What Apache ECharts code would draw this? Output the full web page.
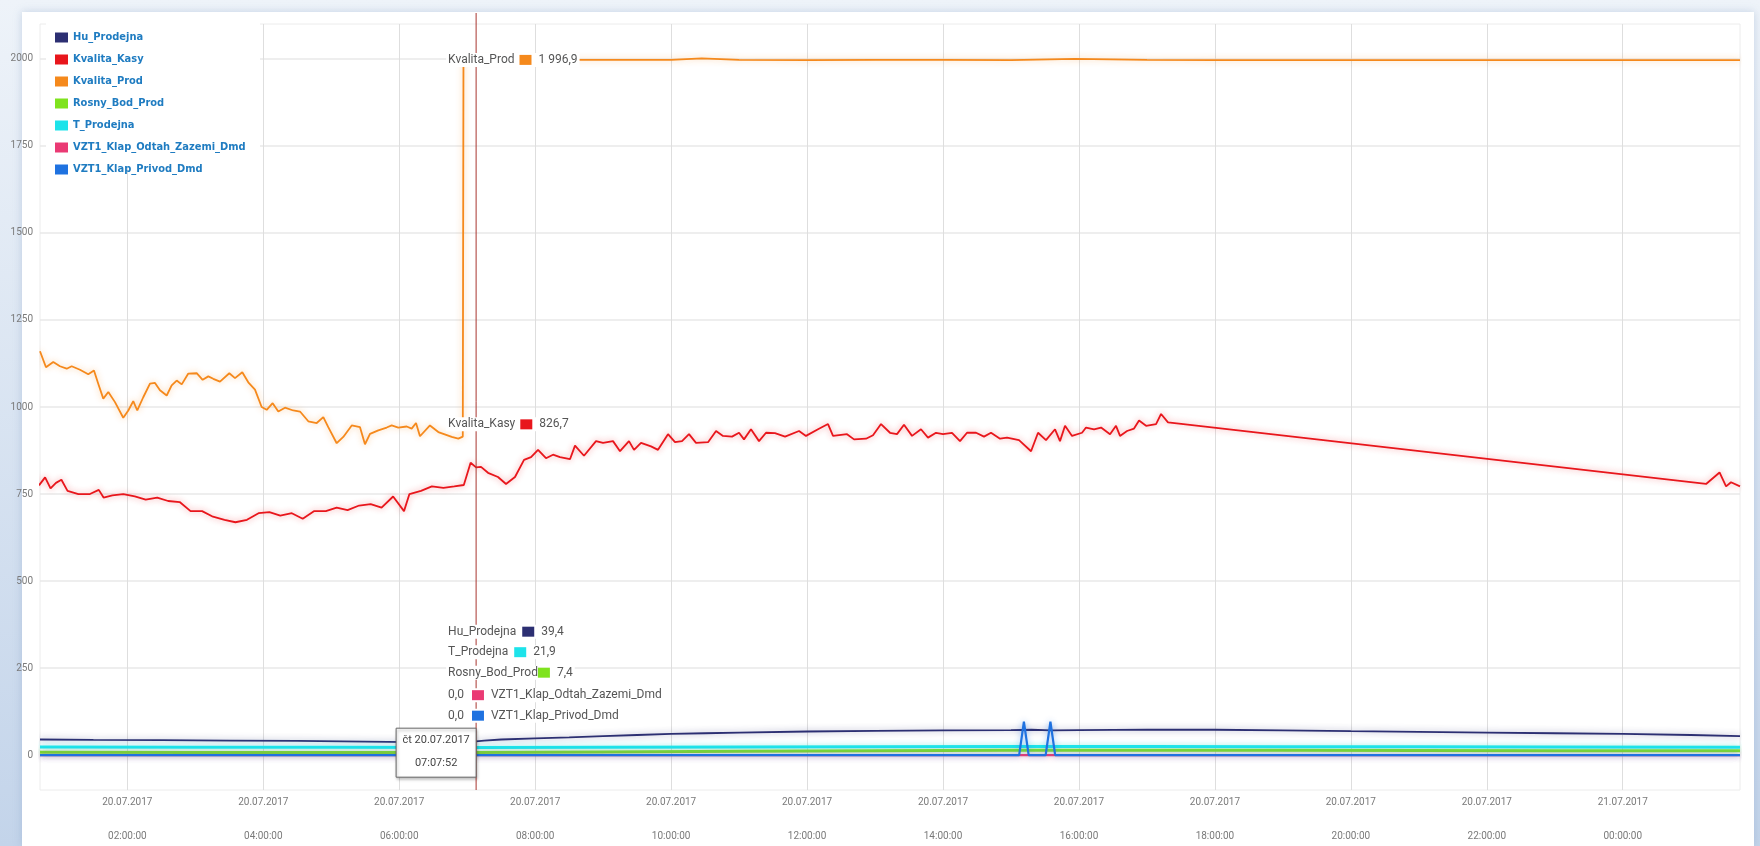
<!DOCTYPE html>
<html><head><meta charset="utf-8">
<script src="https://cdn.jsdelivr.net/npm/echarts@6/dist/echarts.min.js"></script>
<style>
html,body{margin:0;padding:0;width:1760px;height:846px;overflow:hidden;background:linear-gradient(to bottom,#eef3f9,#c3d4ea);}
#panel{position:absolute;left:22px;top:12px;width:1732px;height:834px;background:#fff;box-shadow:0 0 8px rgba(120,150,190,0.35);}
#chart{position:absolute;left:0;top:0;width:1760px;height:846px;}
</style></head><body><div id="panel"></div><div id="chart"></div>
<script>
// time values are hours since 20.07.2017 00:00
const seriesNames = ['Hu_Prodejna','Kvalita_Kasy','Kvalita_Prod','Rosny_Bod_Prod','T_Prodejna','VZT1_Klap_Odtah_Zazemi_Dmd','VZT1_Klap_Privod_Dmd'];
const seriesColors = ['#2c2f72','#e8161c','#f5891c','#7fe31e','#1de3ea','#ea3a74','#1f72e0'];

const yTicks = [0,250,500,750,1000,1250,1500,1750,2000];
const xTicks = [2,4,6,8,10,12,14,16,18,20,22,24];

const huT = [0.715,1.5,2.5,3.5,4.5,5.5,6.5,7.05,7.131,7.25,7.5,8,8.5,9,9.5,10,10.5,11,12,13,14,15,15.3,15.6,16,17,18,19,20,21,22,23,24,25,25.725];
const huV = [45,44,43,42,41,39,37,37,39.4,42,45,48,51,55,58,61,63,65,68,70,71.5,72,73,71,72,73.5,73,71.5,69,67,65,63,61,58,55];

const kasyT = [0.70,0.79,0.87,0.95,1.03,1.12,1.28,1.45,1.58,1.65,
 1.78,1.94,2.11,2.27,2.44,2.60,2.77,2.93,3.10,3.26,
 3.43,3.59,3.76,3.93,4.09,4.25,4.42,4.58,4.75,4.92,
 5.08,5.24,5.41,5.58,5.74,5.91,6.07,6.15,6.32,6.48,
 6.65,6.81,6.95,7.05,7.131,7.203,7.306,7.453,7.571,7.703,
 7.836,7.939,8.042,8.159,8.262,8.365,8.512,8.586,8.718,8.895,
 8.998,9.145,9.248,9.38,9.454,9.557,9.704,9.807,9.954,10.057,
 10.16,10.263,10.366,10.543,10.661,10.763,10.896,10.999,11.072,11.175,
 11.293,11.396,11.528,11.676,11.882,11.984,12.161,12.308,12.382,12.588,
 12.691,12.867,12.97,13.088,13.22,13.323,13.426,13.544,13.676,13.779,
 13.897,14.0,14.132,14.25,14.353,14.486,14.603,14.706,14.839,14.942,
 15.118,15.295,15.398,15.515,15.648,15.721,15.795,15.898,16.045,16.104,
 16.222,16.325,16.457,16.545,16.604,16.707,16.81,16.884,16.987,17.134,
 17.208,17.31,25.226,25.424,25.52,25.593,25.725];
const kasyV = [775,798,766,782,791,759,750,750,762,740,
 746,750,743,734,740,730,727,701,701,685,
 676,669,676,695,698,688,695,679,701,701,
 711,704,717,721,711,743,701,750,759,772,
 768,772,776,840,826.7,828,811,799,779,799,
 848,856,877,853,863,856,850,889,860,902,
 897,902,873,902,877,897,887,877,922,899,
 902,922,897,899,931,917,915,926,907,936,
 902,926,925,915,931,917,936,951,917,922,
 907,909,919,951,926,922,949,917,936,912,
 926,922,926,902,926,926,915,926,909,912,
 905,873,926,905,936,902,946,917,926,941,
 936,941,922,946,917,931,938,961,946,951,
 980,956,779,812,772,784,772];

const prodT = [0.715,0.803,0.91,1.009,1.108,1.181,1.303,1.425,1.509,1.572,
 1.646,1.72,1.818,1.94,2.014,2.087,2.146,2.234,2.333,2.407,
 2.48,2.579,2.652,2.726,2.8,2.897,3.02,3.108,3.191,3.264,
 3.363,3.5,3.584,3.691,3.779,3.878,3.976,4.05,4.138,4.221,
 4.319,4.441,4.54,4.662,4.786,4.883,4.956,5.08,5.177,5.301,
 5.423,5.496,5.57,5.692,5.815,5.889,5.986,6.11,6.183,6.247,
 6.305,6.452,6.575,6.69,6.772,6.869,6.935,6.945,7.131,8.0,
 9.0,10.0,10.45,11.0,12.0,13.0,14.0,15.0,15.94,17.0,
 18.0,20.0,22.0,24.0,25.725];
const prodV = [1160,1114,1129,1117,1110,1117,1107,1094,1105,1067,
 1024,1043,1014,969,990,1017,990,1028,1067,1069,
 1048,1033,1062,1076,1065,1096,1097,1078,1088,1081,
 1073,1097,1083,1100,1071,1050,1000,992,1011,987,
 998,990,987,959,954,971,942,896,914,947,
 942,893,923,933,941,947,941,944,938,954,
 916,947,928,920,914,909,915,1998,1996.9,1997,
 1997,1997,2001,1997,1996,1997,1997,1996,2000,1997,
 1996,1996,1996,1996,1996];

const rosnyT = [0.715,3,5,7.131,9,11,13,15,17,19,21,23,25.725];
const rosnyV = [8.5,8,7.5,7.4,9,11,13,14,14.5,14,13.5,13,12.5];

const tProdT = [0.715,3,5,7.131,9,11,13,15,17,19,21,23,25.725];
const tProdV = [23.5,23,22.5,21.9,22.5,23.5,24.5,25,25,24.5,24,23.5,23];

const odtahT = [0.715,25.725];
const odtahV = [0,0];

const privodT = [0.715,15.12,15.19,15.26,15.51,15.58,15.65,25.725];
const privodV = [0,0,96,0,0,96,0,0];

const cursorHour = 7.1311; // 07:07:52
const tipDate = 'čt 20.07.2017';
const tipTime = '07:07:52';
const tipProd = '1 996,9', tipKasy = '826,7', tipHu = '39,4', tipT = '21,9', tipRosny = '7,4', tipOdtah = '0,0', tipPrivod = '0,0';

const F = 'Roboto, "Noto Sans", sans-serif';
const FL = '"Liberation Sans Narrow", "DejaVu Sans Condensed", Roboto, sans-serif';

function pairs(t, v){ return t.map((x,i)=>[x, v[i]]); }
const allT = [huT,kasyT,prodT,rosnyT,tProdT,odtahT,privodT];
const allV = [huV,kasyV,prodV,rosnyV,tProdV,odtahV,privodV];
const widths = [1.8,1.8,1.8,3,3,2.2,2.2];

function hexA(h,a){const r=parseInt(h.substr(1,2),16),g=parseInt(h.substr(3,2),16),b=parseInt(h.substr(5,2),16);return 'rgba('+r+','+g+','+b+','+a+')';}
function pad(n){return (n<10?'0':'')+n;}

const chart = echarts.init(document.getElementById('chart'), null, {renderer:'canvas'});
const option = {
  animation:false,
  backgroundColor:'transparent',
  grid:{left:40,right:20,top:24,bottom:56,show:true,borderColor:'#ececec',borderWidth:1},
  legend:{orient:'vertical',left:50,top:27,itemWidth:13,itemHeight:10,itemGap:11,icon:'rect',
    textStyle:{color:'#1f7cc1',fontWeight:'bold',fontSize:11,fontFamily:FL,lineHeight:10},
    data:seriesNames, z:10},
  xAxis:{type:'value',min:0.715,max:25.725,
    axisLine:{show:false},
    axisTick:{show:false,customValues:xTicks},
    splitLine:{show:true,lineStyle:{color:'#dedede',width:1}},
    axisLabel:{customValues:xTicks,margin:4,color:'#7a7a7a',
      formatter:function(v){const d=20+Math.floor(v/24);const h=Math.round(v%24);return '{d|'+d+'.07.2017}\n{t|'+pad(h)+':00:00}';},
      rich:{d:{fontSize:10,fontFamily:F,color:'#7a7a7a',lineHeight:16},t:{fontSize:10,fontFamily:F,color:'#7a7a7a',lineHeight:52}}}
  },
  yAxis:{type:'value',min:-100,max:2100,
    axisLine:{show:false},
    axisTick:{show:false,customValues:yTicks},
    splitLine:{show:true,lineStyle:{color:'#e8e8e8',width:1.5}},
    axisLabel:{customValues:yTicks,color:'#7a7a7a',fontSize:10,fontFamily:F,margin:7,
      formatter:function(v){return String(v);}}
  },
  series: seriesNames.map((n,i)=>({
    name:n,type:'line',data:pairs(allT[i],allV[i]),showSymbol:false,symbol:'none',
    color:seriesColors[i],
    lineStyle:{width:widths[i],color:seriesColors[i],shadowBlur:6,shadowColor:hexA(seriesColors[i],0.45)},
    emphasis:{disabled:true},z:2+i*0.01
  }))
};
chart.setOption(option);

const cx = chart.convertToPixel({gridIndex:0},[cursorHour,0])[0];
const py = v => chart.convertToPixel({gridIndex:0},[cursorHour,v])[1];
const yTop = py(2100), yBot = py(-100), y0 = py(0);
const lx = cx - 30;

function tipLabel(y, text, colorIdx, nameFirst, gap){
  return {type:'text',x:lx,y:y,z:60,silent:true,
    style:{text:text,fontSize:12,fontFamily:F,fill:'#555',verticalAlign:'middle',align:'left',
      backgroundColor:'#fff',padding:[1,2],
      rich:{n:{fontSize:12,fontFamily:F,fill:'#555',padding:[0,gap,0,0]},
            m:{fontSize:12,fontFamily:F,fill:'#555',padding:[0,8,0,0]},
            v:{fontSize:12,fontFamily:F,fill:'#555',padding:[0,0,0,7]},
            s:{width:12,height:10,backgroundColor:seriesColors[colorIdx]},
            w:{fontSize:12,fontFamily:F,fill:'#555',padding:[0,0,0,7]}}}};
}

chart.setOption({graphic:[
  {type:'rect',shape:{x:46,y:18,width:214,height:150},style:{fill:'#fff'},z:1,silent:true},
  {type:'line',shape:{x1:cx,y1:13,x2:cx,y2:yBot},style:{stroke:'#a8352f',lineWidth:1},z:55,silent:true},
  tipLabel(py(1996.9),'{n|Kvalita_Prod}{s|}{v|'+tipProd+'}',2,false,5),
  tipLabel(py(826.7)-43,'{n|Kvalita_Kasy}{s|}{v|'+tipKasy+'}',1,false,5),
  tipLabel(y0-123.5,'{n|Hu_Prodejna}{s|}{v|'+tipHu+'}',0,false,6),
  tipLabel(y0-103,'{n|T_Prodejna}{s|}{v|'+tipT+'}',4,false,6),
  tipLabel(y0-82.5,'{n|Rosny_Bod_Prod}{s|}{v|'+tipRosny+'}',3,false,0),
  tipLabel(y0-60,'{m|'+tipOdtah+'}{s|}{w|VZT1_Klap_Odtah_Zazemi_Dmd}',5,true,0),
  tipLabel(y0-39.5,'{m|'+tipPrivod+'}{s|}{w|VZT1_Klap_Privod_Dmd}',6,true,0),
  {type:'rect',shape:{x:cx-80,y:y0-27,width:80,height:49},z:58,silent:true,
    style:{fill:'#fff',stroke:'#666',lineWidth:1,shadowBlur:3,shadowOffsetX:1,shadowOffsetY:2,shadowColor:'rgba(0,0,0,0.3)'}},
  {type:'text',x:cx-40,y:y0-15,z:59,silent:true,style:{text:tipDate,fontSize:11,fontFamily:F,fill:'#444',align:'center',verticalAlign:'middle'}},
  {type:'text',x:cx-40,y:y0+8,z:59,silent:true,style:{text:tipTime,fontSize:11,fontFamily:F,fill:'#444',align:'center',verticalAlign:'middle'}}
]});
</script></body></html>
